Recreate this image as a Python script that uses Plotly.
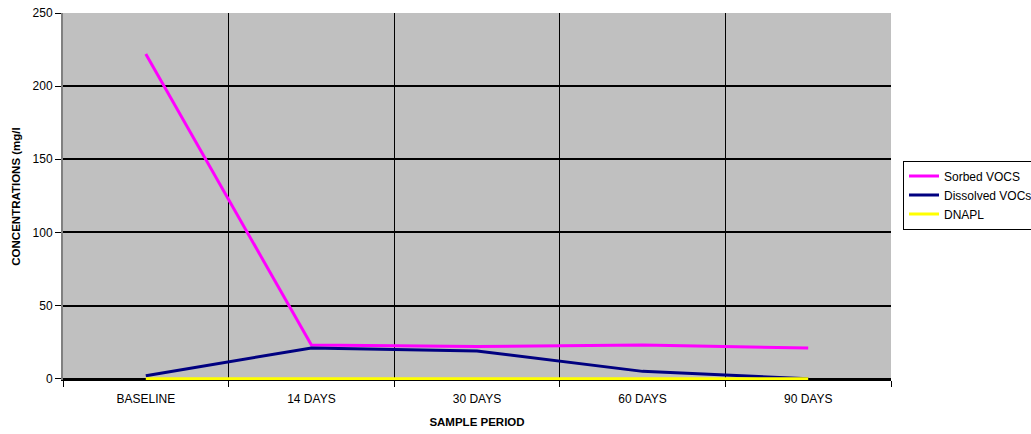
import plotly.graph_objects as go

categories = ["BASELINE", "14 DAYS", "30 DAYS", "60 DAYS", "90 DAYS"]
sorbed_vocs = [222, 23, 22, 23, 21]
dissolved_vocs = [2, 21, 19, 5, 0]
dnapl = [0, 0, 0, 0, 0]
y_ticks = [0, 50, 100, 150, 200, 250]

fig = go.Figure()
fig.add_trace(go.Scatter(x=categories, y=sorbed_vocs, mode="lines", name="Sorbed VOCS",
                         line=dict(color="#FF00FF", width=3)))
fig.add_trace(go.Scatter(x=categories, y=dissolved_vocs, mode="lines", name="Dissolved VOCs",
                         line=dict(color="#000080", width=3)))
fig.add_trace(go.Scatter(x=categories, y=dnapl, mode="lines", name="DNAPL",
                         line=dict(color="#FFFF00", width=3)))

fig.update_layout(
    width=1031, height=434,
    margin=dict(l=63, r=140, t=13, b=54, autoexpand=False),
    paper_bgcolor="white",
    plot_bgcolor="#C0C0C0",
    font=dict(family="Arial, Liberation Sans, sans-serif", size=12, color="black"),
    showlegend=True,
    legend=dict(x=1.0145, y=0.504, xanchor="left", yanchor="middle",
                bgcolor="white", bordercolor="black", borderwidth=1,
                font=dict(size=12), tracegroupgap=0, itemwidth=30),
    xaxis=dict(
        type="category", range=[-0.5, 4.5], automargin=False,
        tickson="boundaries", ticks="outside", ticklen=6, tickcolor="black",
        tickfont=dict(size=12), ticklabelstandoff=8,
        showgrid=True, gridcolor="black", gridwidth=1,
        showline=True, linecolor="black", linewidth=1,
        title=dict(text="<b>SAMPLE PERIOD</b>", font=dict(size=11.5), standoff=12),
        fixedrange=True,
    ),
    yaxis=dict(
        range=[-0.9, 250], tickvals=y_ticks, automargin=False,
        ticks="outside", ticklen=6, tickcolor="black",
        tickfont=dict(size=12),
        showgrid=True, gridcolor="black", gridwidth=2,
        showline=True, linecolor="#808080", linewidth=2,
        zeroline=False,
        title=dict(text="<b>CONCENTRATIONS (mg/l</b>", font=dict(size=11.5), standoff=10),
        fixedrange=True,
    ),
)

fig.write_html("out.html", config={"displayModeBar": False},
               post_script="document.body.style.margin='0';")
